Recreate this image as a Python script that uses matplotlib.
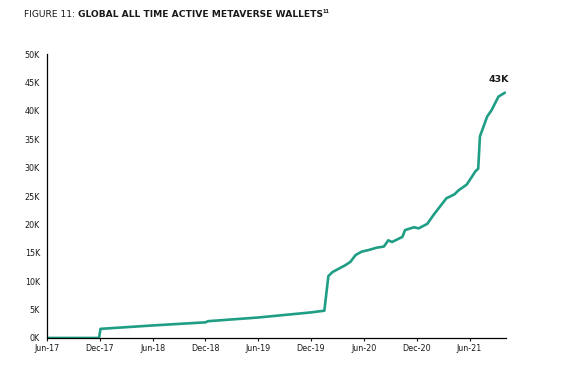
import numpy as np
import pandas as pd
from matplotlib import pyplot as plt
import matplotlib.dates as mdates

# data (thousands of wallets)
dates = ["2017-06-01", "2017-11-28", "2017-12-03", "2018-06-01", "2018-12-01",
         "2018-12-10", "2019-06-01", "2019-12-01", "2020-01-16", "2020-01-30",
         "2020-02-13", "2020-03-28", "2020-04-15", "2020-05-03", "2020-05-24",
         "2020-06-18", "2020-07-15", "2020-08-09", "2020-08-24", "2020-09-06",
         "2020-10-12", "2020-10-21", "2020-11-21", "2020-12-07", "2021-01-06",
         "2021-01-28", "2021-03-13", "2021-04-10", "2021-04-24", "2021-05-22",
         "2021-06-08", "2021-06-22", "2021-07-01", "2021-07-07", "2021-08-01",
         "2021-08-16", "2021-09-09", "2021-10-01"]
wallets = [0, 0, 1.6, 2.2, 2.75,
           2.95, 3.6, 4.5, 4.8, 10.9,
           11.6, 12.8, 13.4, 14.6, 15.2,
           15.5, 15.9, 16.1, 17.2, 16.9,
           17.8, 19.0, 19.5, 19.3, 20.1,
           21.7, 24.6, 25.3, 26.0, 27.0,
           28.3, 29.4, 29.8, 35.5, 39.0,
           40.1, 42.5, 43.2]
tick_dates = ["2017-06-01", "2017-12-01", "2018-06-01", "2018-12-01", "2019-06-01",
              "2019-12-01", "2020-06-01", "2020-12-01", "2021-06-01"]
tick_labels = ["Jun-17", "Dec-17", "Jun-18", "Dec-18", "Jun-19",
               "Dec-19", "Jun-20", "Dec-20", "Jun-21"]
y_ticks = [0, 5, 10, 15, 20, 25, 30, 35, 40, 45, 50]
end_label = "43K"

line_color = "#1f9e85"
text_color = "#1a1a1a"

x = pd.to_datetime(dates)

fig = plt.figure(figsize=(5.73, 3.81), dpi=100)
ax = fig.add_axes([0.082, 0.113, 0.801, 0.745])

ax.plot(x, wallets, color=line_color, linewidth=1.9, solid_capstyle="round",
        solid_joinstyle="round")

ax.set_xlim(pd.Timestamp("2017-06-01"), pd.Timestamp("2021-10-05"))
ax.set_ylim(0, 50)
ax.set_xticks(pd.to_datetime(tick_dates))
ax.set_xticklabels(tick_labels)
ax.set_yticks(y_ticks)
ax.set_yticklabels([str(v) + "K" for v in y_ticks])

for s in ["top", "right"]:
    ax.spines[s].set_visible(False)
for s in ["left", "bottom"]:
    ax.spines[s].set_color("black")
    ax.spines[s].set_linewidth(0.9)

ax.tick_params(axis="x", length=2.5, width=0.8, pad=2, labelsize=5.8,
               colors=text_color)
ax.tick_params(axis="y", length=0, pad=5, labelsize=5.8, colors=text_color)

# end value label
ax.annotate(end_label, xy=(x[-1], wallets[-1]), xytext=(-4, 6),
            textcoords="offset points", ha="center", va="bottom",
            fontsize=6.8, fontweight="bold", color=text_color)

# title: normal prefix, bold part, superscript note number
t1 = fig.text(0.042, 0.955, "FIGURE 11: ", fontsize=6.6, color=text_color,
              va="baseline")
t2 = ax.annotate("GLOBAL ALL TIME ACTIVE METAVERSE WALLETS", xy=(1, 0),
                 xycoords=t1, ha="left", va="bottom", fontsize=6.6,
                 fontweight="bold", color=text_color, annotation_clip=False)
ax.annotate("11", xy=(1, 0.55), xycoords=t2, ha="left", va="bottom",
            fontsize=3.6, fontweight="bold", color=text_color,
            annotation_clip=False)

plt.savefig("out.png", dpi=100)
